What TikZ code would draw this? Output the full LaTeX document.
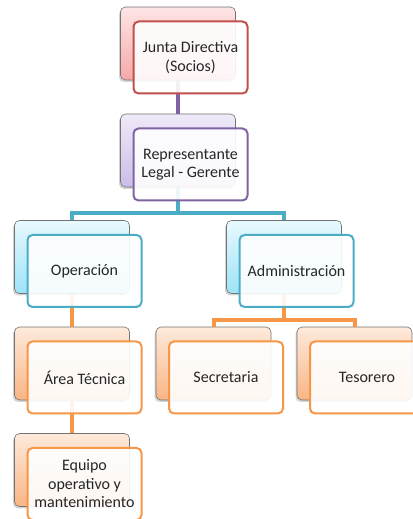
\documentclass[tikz,border=0pt]{standalone}
\usepackage{fontspec}
\setmainfont{Carlito}
\usetikzlibrary{shadows}

\definecolor{rojo}{HTML}{C0504D}
\definecolor{morado}{HTML}{8064A2}
\definecolor{celeste}{HTML}{4BACC6}
\definecolor{naranja}{HTML}{F79646}
\definecolor{rojoA}{HTML}{FDE5E5}
\definecolor{rojoB}{HTML}{F7A8A8}
\definecolor{moradoA}{HTML}{EFEAF8}
\definecolor{moradoB}{HTML}{CBBDE8}
\definecolor{celesteA}{HTML}{E8F9FE}
\definecolor{celesteB}{HTML}{9CE3F8}
\definecolor{naranjaA}{HTML}{FEEADB}
\definecolor{naranjaB}{HTML}{F9B585}

\begin{document}
\begin{tikzpicture}[x=1pt,y=1pt,
    back/.style={rectangle,rounded corners=5pt,draw=black!55,line width=.6pt,
        minimum width=115pt,minimum height=73pt,
        drop shadow={shadow xshift=-1.5pt,shadow yshift=-2pt,opacity=.35}},
    box/.style={rectangle,rounded corners=5pt,draw,line width=2pt,fill=white,
        fill opacity=.9,text opacity=1,minimum width=114pt,minimum height=72pt,
        align=center,text=black!85,font=\fontsize{16}{18.5}\selectfont},
    conn/.style={line width=4pt}
]
    \useasboundingbox (0,0) rectangle (412,519);

    % cajas de fondo
    \node[back,top color=rojoA,bottom color=rojoB] (junta-b) at (178,475.5) {};
    \node[back,top color=moradoA,bottom color=moradoB] (rep-b) at (178,368.5) {};
    \node[back,top color=celesteA,bottom color=celesteB] (oper-b) at (72,262) {};
    \node[back,top color=celesteA,bottom color=celesteB] (admin-b) at (284,262) {};
    \node[back,top color=naranjaA,bottom color=naranjaB] (area-b) at (72,155.5) {};
    \node[back,top color=naranjaA,bottom color=naranjaB] (secre-b) at (213.5,155.5) {};
    \node[back,top color=naranjaA,bottom color=naranjaB] (teso-b) at (354.5,155.5) {};
    \node[back,top color=naranjaA,bottom color=naranjaB] (equipo-b) at (72,49) {};

    % conectores
    \draw[conn,morado] (junta-b.south) -- (rep-b.north);
    \draw[conn,celeste] (rep-b.south) -- ++(0,-26) coordinate (r1) -| (oper-b.north);
    \draw[conn,celeste] (r1) -| (admin-b.north);
    \draw[conn,naranja] (admin-b.south) -- ++(0,-26.5) coordinate (a1) -| (secre-b.north);
    \draw[conn,naranja] (a1) -| (teso-b.north);
    \draw[conn,naranja] (oper-b.south) -- (area-b.north);
    \draw[conn,naranja] (area-b.south) -- (equipo-b.north);

    % cajas de texto
    \node[box,draw=rojo] (junta) at ([shift={(12.5,-14)}]junta-b.center) {Junta Directiva\\(Socios)};
    \node[box,draw=morado] (rep) at ([shift={(12.5,-14)}]rep-b.center) {Representante\\Legal - Gerente};
    \node[box,draw=celeste] (oper) at ([shift={(12.5,-14)}]oper-b.center) {Operación};
    \node[box,draw=celeste] (admin) at ([shift={(12.5,-14)}]admin-b.center) {Administración};
    \node[box,draw=naranja] (area) at ([shift={(12.5,-14)}]area-b.center) {Área Técnica};
    \node[box,draw=naranja] (secre) at ([shift={(12.5,-14)}]secre-b.center) {Secretaria};
    \node[box,draw=naranja] (teso) at ([shift={(12.5,-14)}]teso-b.center) {Tesorero};
    \node[box,draw=naranja] (equipo) at ([shift={(12.5,-14)}]equipo-b.center) {Equipo\\operativo y\\mantenimiento};

\end{tikzpicture}
\end{document}
